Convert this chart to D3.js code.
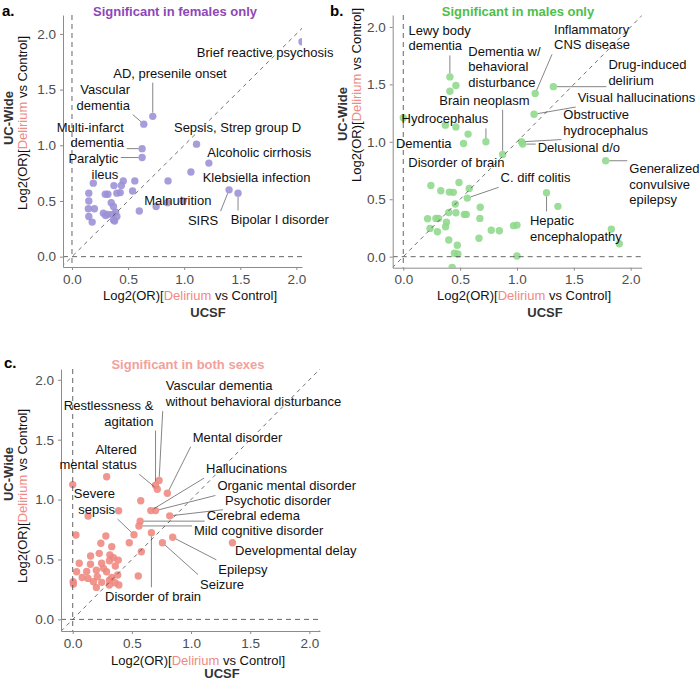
<!DOCTYPE html>
<html lang="en">
<head>
<meta charset="utf-8">
<title>Delirium: UCSF vs UC-Wide log2(OR)</title>
<script src="https://cdn.jsdelivr.net/npm/d3@7"></script>
<style>
  body { margin: 0; background: #fff; font-family: "Liberation Sans", Arial, Helvetica, sans-serif; }
  .axis path, .axis line { stroke: #8c8c8c; stroke-width: 1px; }
  .axis text { fill: #4d4d4d; font-size: 13.5px; font-family: "Liberation Sans", Arial, sans-serif; }
  .lab { font-size: 13px; fill: #111; }
  .seg { stroke: #333; stroke-width: 0.6px; }
  .tag { font-size: 15px; font-weight: bold; }
  .ptitle { font-size: 13px; font-weight: bold; }
  .atitle { font-size: 13px; fill: #111; }
  .abold { font-size: 13px; font-weight: bold; fill: #333; }
</style>
</head>
<body>
<svg id="chart" width="700" height="681"></svg>
<script>
// tick values shared by every axis
var ticks = [0, 0.5, 1, 1.5, 2];

// [UCSF log2(OR), UC-Wide log2(OR)]
var femalePoints = [
  [2.05, 1.93], [0.72, 1.26], [0.64, 1.19], [0.625, 0.97], [0.625, 0.89],
  [1.11, 1.01], [1.22, 0.84], [1.06, 0.76], [1.40, 0.60], [1.48, 0.57], [0.856, 0.68],
  [0.99, 0.50], [0.75, 0.45], [0.85, 0.485], [0.60, 0.41],
  [0.19, 0.66], [0.15, 0.57], [0.15, 0.50], [0.146, 0.43], [0.20, 0.43], [0.15, 0.36], [0.18, 0.31],
  [0.297, 0.56], [0.32, 0.56], [0.374, 0.638], [0.43, 0.575], [0.457, 0.68], [0.44, 0.64],
  [0.40, 0.57], [0.56, 0.68], [0.54, 0.59],
  [0.35, 0.485], [0.37, 0.45], [0.39, 0.40], [0.28, 0.39], [0.32, 0.38], [0.37, 0.33],
  [0.38, 0.32], [0.36, 0.38], [0.30, 0.37], [0.40, 0.36],
  [-0.1, -0.12]
];

var malePoints = [
  [0.41, 1.565], [0.463, 1.49], [1.16, 1.42], [1.32, 1.48], [1.15, 1.24], [1.04, 1.0],
  [1.05, 0.98], [0.874, 0.89], [0.727, 1.0], [0.53, 0.985], [1.78, 0.835], [0.49, 0.646],
  [0.563, 0.51], [1.26, 0.556],
  [0.41, 1.44], [0.37, 1.145], [0.463, 1.13], [0.57, 1.067], [0.0, 1.21], [0.58, 0.594],
  [1.36, 0.438], [1.83, 0.24], [1.90, 0.113], [1.0, 0.006], [0.97, 0.27], [1.0, 0.275],
  [0.774, 0.23], [0.845, 0.226], [0.674, 0.333], [0.677, 0.43], [0.666, 0.16],
  [0.243, 0.62], [0.33, 0.574], [0.405, 0.562], [0.44, 0.56], [0.457, 0.458], [0.40, 0.385],
  [0.463, 0.383], [0.537, 0.368], [0.554, 0.368], [0.214, 0.33], [0.287, 0.333], [0.31, 0.333],
  [0.38, 0.30], [0.372, 0.26], [0.235, 0.246], [0.30, 0.217], [0.40, 0.145], [0.475, 0.10],
  [0.45, 0.03], [0.48, 0.023], [0.43, -0.093]
];

var bothPoints = [
  [0.73, 1.16], [0.70, 1.12], [0.715, 1.086], [0.80, 1.053], [0.66, 0.908], [0.70, 0.908],
  [0.82, 0.864], [0.57, 0.82], [0.56, 0.78], [1.35, 0.64], [0.845, 0.685], [0.758, 0.64],
  [0.665, 0.724], [0.518, 0.707],
  [0.575, 0.99], [0.388, 0.907], [0.287, 1.19], [0.0, 1.125], [0.13, 0.863], [0.478, 0.64],
  [0.58, 0.565], [0.554, 0.362], [0.027, 0.704],
  [0.28, 0.696], [0.238, 0.635], [0.33, 0.607], [0.224, 0.551], [0.151, 0.529], [0.314, 0.537],
  [0.344, 0.515], [0.31, 0.49], [0.385, 0.495], [0.055, 0.468], [0.15, 0.46], [0.244, 0.468],
  [0.36, 0.446], [0.033, 0.398], [0.286, 0.398], [0.08, 0.35], [0.13, 0.342], [0.208, 0.356],
  [0.33, 0.35], [0.004, 0.314], [0.006, 0.295], [0.175, 0.315], [0.2, 0.267], [0.245, 0.309],
  [0.31, 0.328], [0.358, 0.306], [0.39, 0.287], [0.26, 0.426], [0.118, 0.40], [0.2, 0.41],
  [0.38, 0.37], [0.31, 0.287],
  [0.673, -0.13], [2.1, -0.12]
];

// [label, point x, point y, label anchor x, label centre y, anchor side]
var femaleLabels = [
  ["Brief reactive psychosis", 2.05, 1.93, 2.33, 1.836, "end"],
  ["AD, presenile onset", 0.72, 1.26, 0.368, 1.648, "start"],
  ["Vascular\ndementia", 0.64, 1.19, 0.517, 1.432, "end"],
  ["Multi-infarct\ndementia", 0.625, 0.97, 0.463, 1.094, "end"],
  ["Paralytic\nileus", 0.625, 0.89, 0.413, 0.809, "end"],
  ["Sepsis, Strep group D", 1.11, 1.01, 0.909, 1.159, "start"],
  ["Alcoholic cirrhosis", 1.22, 0.84, 1.206, 0.935, "start"],
  ["Klebsiella infection", 1.06, 0.76, 1.165, 0.713, "start"],
  ["SIRS", 1.40, 0.60, 1.304, 0.324, "end"],
  ["Bipolar I disorder", 1.48, 0.57, 1.414, 0.330, "start"],
  ["Malnutrition", 0.856, 0.68, 0.644, 0.503, "start"]
];

var maleLabels = [
  ["Lewy body\ndementia", 0.41, 1.565, 0.047, 1.904, "start"],
  ["Dementia w/\nbehavioral\ndisturbance", 0.463, 1.49, 0.572, 1.652, "start"],
  ["Inflammatory\nCNS disease", 1.16, 1.42, 1.326, 1.913, "start"],
  ["Drug-induced\ndelirium", 1.32, 1.48, 1.804, 1.606, "start"],
  ["Visual hallucinations", 1.15, 1.24, 1.534, 1.386, "start"],
  ["Obstructive\nhydrocephalus", 1.04, 1.0, 1.408, 1.171, "start"],
  ["Delusional d/o", 1.05, 0.98, 1.182, 0.951, "start"],
  ["Brain neoplasm", 0.874, 0.89, 0.317, 1.362, "start"],
  ["Hydrocephalus", 0.727, 1.0, 0.748, 1.2, "end"],
  ["Dementia", 0.53, 0.985, 0.425, 0.986, "end"],
  ["Disorder of brain", 0.49, 0.646, 0.044, 0.817, "start"],
  ["C. diff colitis", 0.563, 0.51, 0.856, 0.687, "start"],
  ["Generalized\nconvulsive\nepilepsy", 1.78, 0.835, 1.988, 0.632, "start"],
  ["Hepatic\nencephalopathy", 1.26, 0.556, 1.114, 0.243, "start"]
];

var bothLabels = [
  ["Vascular dementia\nwithout behavioral disturbance", 0.73, 1.16, 0.786, 1.883, "start"],
  ["Restlessness &\nagitation", 0.70, 1.12, 0.682, 1.721, "end"],
  ["Mental disorder", 0.80, 1.053, 1.014, 1.521, "start"],
  ["Altered\nmental status", 0.715, 1.086, 0.541, 1.357, "end"],
  ["Hallucinations", 0.66, 0.908, 1.127, 1.259, "start"],
  ["Organic mental disorder", 0.70, 0.908, 1.223, 1.114, "start"],
  ["Psychotic disorder", 0.82, 0.864, 1.287, 0.995, "start"],
  ["Cerebral edema", 0.57, 0.82, 1.132, 0.866, "start"],
  ["Mild cognitive disorder", 0.56, 0.78, 1.025, 0.740, "start"],
  ["Developmental delay", 1.35, 0.64, 1.372, 0.579, "start"],
  ["Epilepsy", 0.845, 0.685, 1.231, 0.418, "start"],
  ["Seizure", 0.758, 0.64, 1.076, 0.295, "start"],
  ["Disorder of brain", 0.665, 0.724, 0.273, 0.189, "start"],
  ["Severe\nsepsis", 0.518, 0.707, 0.358, 0.983, "end"]
];

var panels = [
  { id: "a", tag: "a.", tagX: 2, tagY: 16, title: "Significant in females only", titleColor: "#8e46b8",
    titleX: 175, titleY: 16, dot: "#9c90d6", points: femalePoints, labels: femaleLabels,
    xDomain: [-0.08, 2.05], yDomain: [-0.093, 2.17], left: 63, right: 302, top: 15, bottom: 267,
    yt1: [8, 118], yt2: [22, 123], xt1: [190, 300], xt2: [208, 317] },
  { id: "b", tag: "b.", tagX: 330, tagY: 16, title: "Significant in males only", titleColor: "#4cbf4c",
    titleX: 518, titleY: 16, dot: "#8ed88b", points: malePoints, labels: maleLabels,
    xDomain: [-0.093, 2.097], yDomain: [-0.096, 2.104], left: 392.7, right: 641.7, top: 15, bottom: 267.7,
    yt1: [342, 114], yt2: [356, 95], xt1: [524, 300], xt2: [545, 317] },
  { id: "c", tag: "c.", tagX: 4, tagY: 368, title: "Significant in both sexes", titleColor: "#f2a19b",
    titleX: 188, titleY: 369, dot: "#ee877f", points: bothPoints, labels: bothLabels,
    xDomain: [-0.099, 2.09], yDomain: [-0.097, 2.09], left: 61, right: 320, top: 369, bottom: 631,
    yt1: [8, 474], yt2: [22, 496], xt1: [198, 665], xt2: [222, 677.5] }
];

var svg = d3.select("#chart");
var fmt = d3.format(".1f");
var lineH = 15.7;
var radius = 3.7;

panels.forEach(function(p) {
  var x = d3.scaleLinear().domain(p.xDomain).range([p.left, p.right]);
  var y = d3.scaleLinear().domain(p.yDomain).range([p.bottom, p.top]);
  var g = svg.append("g");

  g.append("clipPath").attr("id", "clip-" + p.id)
    .append("rect")
    .attr("x", p.left).attr("y", p.top)
    .attr("width", p.right - p.left).attr("height", p.bottom - p.top);

  var plot = g.append("g").attr("clip-path", "url(#clip-" + p.id + ")");

  plot.selectAll("circle")
    .data(p.points)
    .join("circle")
    .attr("cx", function(d) { return x(d[0]); })
    .attr("cy", function(d) { return y(d[1]); })
    .attr("r", radius)
    .attr("fill", p.dot)
    .attr("fill-opacity", 0.88);

  // reference lines: x = 0, y = 0 and y = x
  plot.append("line")
    .attr("x1", x(0)).attr("x2", x(0)).attr("y1", p.top).attr("y2", p.bottom)
    .attr("stroke", "#555").attr("stroke-width", 0.9).attr("stroke-dasharray", "5,4");
  plot.append("line")
    .attr("x1", p.left).attr("x2", p.right).attr("y1", y(0)).attr("y2", y(0))
    .attr("stroke", "#555").attr("stroke-width", 0.9).attr("stroke-dasharray", "5,4");
  var lo = Math.min(p.xDomain[0], p.yDomain[0]), hi = Math.max(p.xDomain[1], p.yDomain[1]);
  plot.append("line")
    .attr("x1", x(lo)).attr("y1", y(lo)).attr("x2", x(hi)).attr("y2", y(hi))
    .attr("stroke", "#333").attr("stroke-width", 0.7).attr("stroke-dasharray", "4,4");

  g.append("g").attr("class", "axis")
    .attr("transform", "translate(0," + p.bottom + ")")
    .call(d3.axisBottom(x).tickValues(ticks).tickFormat(fmt).tickSize(3).tickSizeOuter(0).tickPadding(4));
  g.append("g").attr("class", "axis")
    .attr("transform", "translate(" + p.left + ",0)")
    .call(d3.axisLeft(y).tickValues(ticks).tickFormat(fmt).tickSize(3).tickSizeOuter(0).tickPadding(4));

  // repel-style labels with leader segments
  var segs = g.append("g");
  p.labels.forEach(function(l) {
    var lines = l[0].split("\n");
    var ax = x(l[3]), cy = y(l[4]);
    var t = g.append("text").attr("class", "lab").attr("text-anchor", l[5]);
    lines.forEach(function(s, i) {
      t.append("tspan").attr("x", ax)
        .attr("y", cy + (i - (lines.length - 1) / 2) * lineH)
        .attr("dy", "0.35em").text(s);
    });
    var b = t.node().getBBox();
    var pad = 2;
    var bx0 = b.x - pad, bx1 = b.x + b.width + pad, by0 = b.y - pad, by1 = b.y + b.height + pad;
    var px = x(l[1]), py = y(l[2]);
    var qx = Math.max(bx0, Math.min(px, bx1)), qy = Math.max(by0, Math.min(py, by1));
    var dx = qx - px, dy = qy - py, len = Math.sqrt(dx * dx + dy * dy);
    if (len - radius > 7) {
      segs.append("line")
        .attr("class", "seg")
        .attr("x1", px + dx / len * radius).attr("y1", py + dy / len * radius)
        .attr("x2", qx).attr("y2", qy);
    }
  });

  // titles
  svg.append("text").attr("class", "tag").attr("x", p.tagX).attr("y", p.tagY).text(p.tag);
  svg.append("text").attr("class", "ptitle").attr("x", p.titleX).attr("y", p.titleY)
    .attr("text-anchor", "middle").attr("fill", p.titleColor).text(p.title);

  svg.append("text").attr("class", "abold")
    .attr("transform", "translate(" + p.yt1[0] + "," + p.yt1[1] + ") rotate(-90)")
    .attr("text-anchor", "middle").attr("dy", "0.35em").text("UC-Wide");
  axisTitle(svg.append("text").attr("class", "atitle")
    .attr("transform", "translate(" + p.yt2[0] + "," + p.yt2[1] + ") rotate(-90)")
    .attr("text-anchor", "middle").attr("dy", "0.35em"));

  axisTitle(svg.append("text").attr("class", "atitle")
    .attr("x", p.xt1[0]).attr("y", p.xt1[1]).attr("text-anchor", "middle"));
  svg.append("text").attr("class", "abold")
    .attr("x", p.xt2[0]).attr("y", p.xt2[1]).attr("text-anchor", "middle").text("UCSF");
});

function axisTitle(t) {
  t.append("tspan").text("Log2(OR)[");
  t.append("tspan").attr("fill", "#f08a84").text("Delirium");
  t.append("tspan").text(" vs Control]");
}
</script>
</body>
</html>
